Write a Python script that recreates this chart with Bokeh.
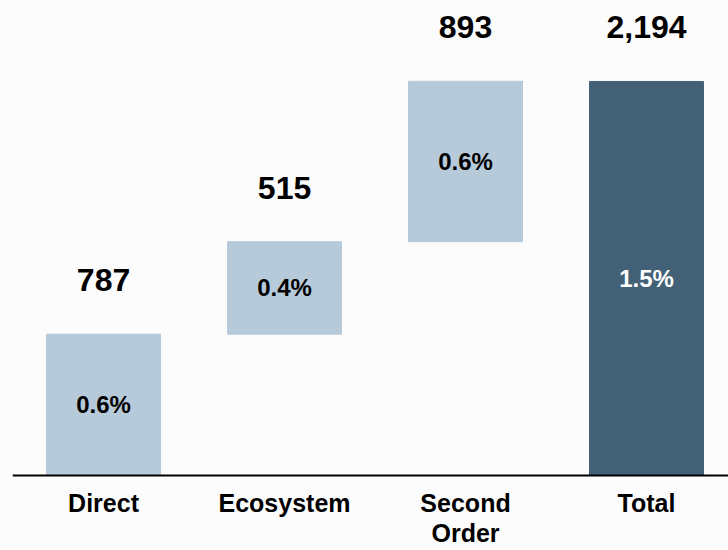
from bokeh.plotting import figure
from bokeh.models import Range1d, ColumnDataSource, Span
from bokeh.core.properties import value
from bokeh.embed import file_html
from bokeh.resources import INLINE

# ---- data ----
categories = ["Direct", "Ecosystem", "Second Order", "Total"]
axis_labels = ["Direct", "Ecosystem", "Second\nOrder", "Total"]
values = [787, 515, 893, 2194]
percents = ["0.6%", "0.4%", "0.6%", "1.5%"]
is_total = [False, False, False, True]

LIGHT = "#b7cad9"
DARK = "#426176"
FONT = "Liberation Sans"

# waterfall geometry from the values
xs, bottoms, tops, colors, pct_colors = [], [], [], [], []
running = 0
for i, (v, t) in enumerate(zip(values, is_total)):
    xs.append(i)
    if t:
        b, tp = 0, v
    else:
        b, tp = running, running + v
        running += v
    bottoms.append(b)
    tops.append(tp)
    colors.append(DARK if t else LIGHT)
    pct_colors.append("white" if t else "black")

src = ColumnDataSource(dict(
    x=xs, bottom=bottoms, top=tops, color=colors,
    mid=[(b + t) / 2 for b, t in zip(bottoms, tops)],
    val=["{:,}".format(v) for v in values],
    pct=percents, pct_color=pct_colors,
    zero=[0] * len(xs), cat=axis_labels,
))

p = figure(width=728, height=550, output_backend="svg", toolbar_location=None,
           x_range=Range1d(-0.503, 3.453), y_range=Range1d(-417.6, 2645),
           x_axis_location=None, y_axis_location=None,
           min_border_left=12, min_border_right=0,
           min_border_top=0, min_border_bottom=0)
p.background_fill_color = "#fcfcfc"
p.border_fill_color = "#fcfcfc"
p.outline_line_color = None
p.grid.visible = False

p.vbar(x="x", bottom="bottom", top="top", width=0.63, color="color", source=src)

# baseline
p.add_layout(Span(location=0, dimension="width", line_color="black", line_width=2))

p.text(x="x", y="top", text="val", source=src, y_offset=-54,
       text_align="center", text_baseline="alphabetic",
       text_font=value(FONT), text_font_style="bold",
       text_font_size="32px", text_color="black")

p.text(x="x", y="mid", text="pct", source=src,
       text_align="center", text_baseline="middle",
       text_font=value(FONT), text_font_style="bold",
       text_font_size="24px", text_color="pct_color")

p.text(x="x", y="zero", text="cat", source=src, y_offset=13,
       text_align="center", text_baseline="top", text_line_height=1.1,
       text_font=value(FONT), text_font_style="bold",
       text_font_size="25px", text_color="black")

open("out.html", "w").write(file_html(p, INLINE))
